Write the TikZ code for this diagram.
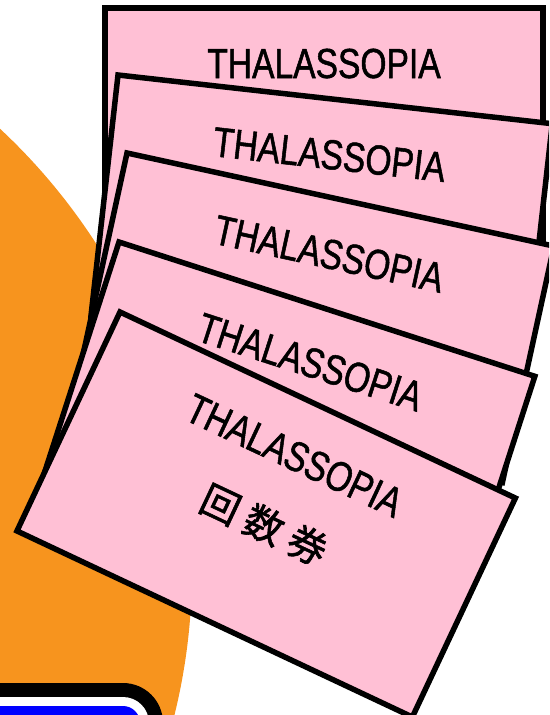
\documentclass[tikz,border=0pt]{standalone}
\usepackage{fontspec}
\newfontfamily\cardfont[FakeStretch=0.8, FakeBold=1.2]{Liberation Sans}
\newfontfamily\cjkfont[FakeBold=1.5]{Noto Sans CJK JP}
\definecolor{cardpink}{HTML}{FFC0D5}
\definecolor{sunorange}{HTML}{F7941E}
\definecolor{badgeblue}{HTML}{0000FF}
\begin{document}
\begin{tikzpicture}[x=1pt,y=-1pt,
  cardbox/.style={fill=cardpink, draw=black, line width=5.5pt},
  title/.style={font=\cardfont\fontsize{42}{42}\selectfont, inner sep=0pt, anchor=base, transform shape},
  kanji/.style={font=\cjkfont\fontsize{39}{39}\selectfont, inner sep=0pt, transform shape}]
\useasboundingbox (0,0) rectangle (549,715);
\clip (0,0) rectangle (549,715);
% orange disc
\fill[sunorange] (-411,570) circle[radius=603];
% badge
\fill[black, rounded corners=40pt] (-60,683) rectangle (163,800);
\fill[white, rounded corners=26pt] (-46,697) rectangle (149,786);
\fill[badgeblue, rounded corners=17pt] (-37,706) rectangle (140,777);
% cards
\begin{scope}[shift={(105,8)}]
  \draw[cardbox] (0,0) rectangle (438,242);
  \node[title] (t1) at (219,70) {THALASSOPIA};
\end{scope}
\begin{scope}[shift={(118,75)}, rotate=-6.4]
  \draw[cardbox] (0,0) rectangle (437,242);
  \node[title] (t2) at (219,70) {THALASSOPIA};
\end{scope}
\begin{scope}[shift={(127,153)}, rotate=-12.3]
  \draw[cardbox] (0,0) rectangle (437,242);
  \node[title] (t3) at (219,70) {THALASSOPIA};
\end{scope}
\begin{scope}[shift={(119,242)}, rotate=-17.9]
  \draw[cardbox] (0,0) rectangle (437,242);
  \node[title] (t4) at (219,70) {THALASSOPIA};
\end{scope}
\begin{scope}[shift={(120,312)}, rotate=-25.2]
  \draw[cardbox] (0,0) rectangle (437,242);
  \node[title] (t5) at (219,70) {THALASSOPIA};
  \node[kanji] (k5) at (221,131) {回\hspace{9pt}数\hspace{9pt}券};
\end{scope}
\end{tikzpicture}
\end{document}
